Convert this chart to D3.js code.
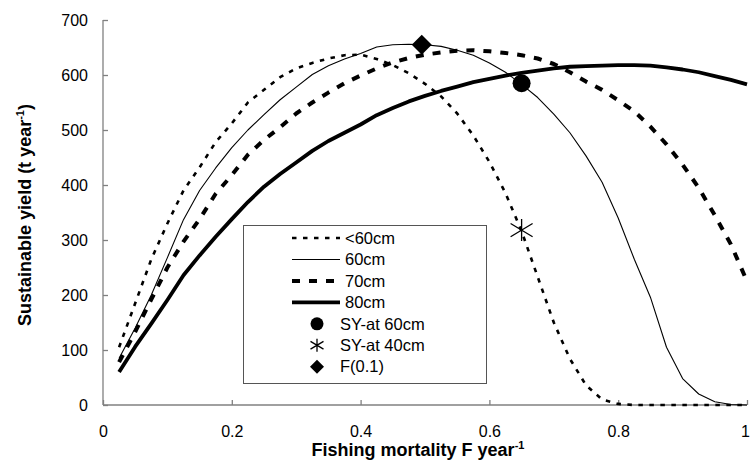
<!DOCTYPE html>
<html>
<head>
<meta charset="utf-8">
<script src="https://cdn.jsdelivr.net/npm/d3@7"></script>
<style>
  html, body { margin: 0; padding: 0; background: #fff; }
  svg { display: block; font-family: "Liberation Sans", Arial, sans-serif; }
</style>
</head>
<body>
<svg id="chart" width="750" height="464"></svg>
<script>
// ---------------- data ----------------
const fishingMortality = [0.025, 0.05, 0.075, 0.1, 0.125, 0.15, 0.175, 0.2, 0.225, 0.25,
  0.275, 0.3, 0.325, 0.35, 0.375, 0.4, 0.425, 0.45, 0.475, 0.5,
  0.525, 0.55, 0.575, 0.6, 0.625, 0.65, 0.675, 0.7, 0.725, 0.75,
  0.775, 0.8, 0.825, 0.85, 0.875, 0.9, 0.925, 0.95, 0.975, 1.0];

const yieldLt60 = [105, 185, 265, 330, 390, 432, 478, 512, 550, 573,
  596, 612, 622, 630, 636, 637, 629, 618, 603, 584,
  561, 530, 490, 442, 385, 316, 233, 150, 84, 36,
  10, 2, 0, 0, 0, 0, 0, 0, 0, 0];

const yield60 = [85, 140, 200, 268, 337, 390, 431, 468, 500, 528,
  555, 578, 601, 617, 629, 639, 651, 655, 656, 655,
  652, 645, 636, 622, 605, 583, 559, 529, 495, 453,
  405, 340, 265, 196, 105, 48, 20, 6, 1, 0];

const yield70 = [78, 133, 192, 250, 297, 338, 384, 418, 455, 482,
  505, 530, 550, 568, 585, 599, 612, 623, 631, 637,
  641, 644, 645, 643, 640, 636, 630, 620, 605, 588,
  573, 554, 534, 506, 474, 437, 395, 345, 292, 225];

const yield80 = [60, 106, 148, 191, 236, 272, 306, 338, 369, 397,
  420, 441, 462, 480, 495, 510, 527, 540, 552, 562,
  571, 579, 587, 593, 599, 604, 608, 612, 615, 616,
  617, 618, 618, 617, 614, 610, 605, 598, 591, 583];

const seriesNames = ["<60cm", "60cm", "70cm", "80cm"];
const pointNames = ["SY-at 60cm", "SY-at 40cm", "F(0.1)"];
// marker points: [F, yield]
const syAt60 = [0.65, 585];
const syAt40 = [0.65, 318];
const f01 = [0.495, 655];

const xTicks = [0, 0.2, 0.4, 0.6, 0.8, 1];
const xTickLabels = ["0", "0.2", "0.4", "0.6", "0.8", "1"];
const yTicks = [0, 100, 200, 300, 400, 500, 600, 700];

// ---------------- drawing ----------------
const svg = d3.select("#chart");
const x = d3.scaleLinear().domain([0, 1]).range([103, 747]);
const y = d3.scaleLinear().domain([0, 700]).range([405, 20]);
const axisColor = "#808080";

// axes
const xAxis = svg.append("g").attr("transform", `translate(0,${y(0)})`)
  .call(d3.axisBottom(x).tickValues(xTicks).tickSize(-5).tickPadding(0)
    .tickFormat((d, i) => xTickLabels[i]));
xAxis.select(".domain").attr("stroke", axisColor).attr("stroke-width", 1.3).attr("d", `M${x(0)},0H${x(1)}`);
xAxis.selectAll(".tick line").attr("stroke", axisColor).attr("stroke-width", 1.3);
xAxis.selectAll(".tick text").attr("y", 32).attr("dy", null)
  .attr("font-size", 16).attr("fill", "#000").attr("font-family", "Liberation Sans, Arial, sans-serif")
  .attr("text-anchor", d => d === 1 ? "end" : "middle")
  .attr("x", d => d === 1 ? 2.5 : 0);

const yAxis = svg.append("g").attr("transform", `translate(${x(0)},0)`)
  .call(d3.axisLeft(y).tickValues(yTicks).tickSize(-5).tickPadding(0));
yAxis.select(".domain").attr("stroke", axisColor).attr("stroke-width", 1.3).attr("d", `M0,${y(700)}V${y(0)}`);
yAxis.selectAll(".tick line").attr("stroke", axisColor).attr("stroke-width", 1.3);
yAxis.selectAll(".tick text").attr("x", -15).attr("dy", "0.35em")
  .attr("font-size", 16).attr("fill", "#000").attr("font-family", "Liberation Sans, Arial, sans-serif");

// axis titles
const xTitle = svg.append("text").attr("x", 418).attr("y", 456)
  .attr("text-anchor", "middle").attr("font-size", 18).attr("font-weight", "bold");
xTitle.append("tspan").text("Fishing mortality F year");
xTitle.append("tspan").attr("font-size", 11).attr("dy", -7).text("-1");

const yTitle = svg.append("text").attr("transform", "translate(31,215) rotate(-90)")
  .attr("text-anchor", "middle").attr("font-size", 18).attr("font-weight", "bold");
yTitle.append("tspan").text("Sustainable yield (t year");
yTitle.append("tspan").attr("font-size", 11).attr("dy", -7).text("-1");
yTitle.append("tspan").attr("dy", 7).text(")");

// line styles
const styles = [
  { w: 2.6, dash: "4.5,6.5" },
  { w: 1.1, dash: null },
  { w: 4, dash: "8,9" },
  { w: 3.8, dash: null }
];
const seriesValues = [yieldLt60, yield60, yield70, yield80];
const line = d3.line().x(d => x(d[0])).y(d => y(d[1]));

seriesValues.forEach((vals, i) => {
  const pts = fishingMortality.map((f, j) => [f, vals[j]]);
  svg.append("path").datum(pts).attr("d", line)
    .attr("fill", "none").attr("stroke", "#000")
    .attr("stroke-width", styles[i].w)
    .attr("stroke-dasharray", styles[i].dash)
    .attr("stroke-linejoin", "round");
});

// markers
function drawCircle(g, cx, cy, r) {
  g.append("circle").attr("cx", cx).attr("cy", cy).attr("r", r).attr("fill", "#000");
}
function drawAsterisk(g, cx, cy, s) {
  const p = d3.path();
  p.moveTo(cx, cy - s); p.lineTo(cx, cy + s);
  p.moveTo(cx - s, cy - s * 0.6); p.lineTo(cx + s, cy + s * 0.6);
  p.moveTo(cx - s, cy + s * 0.6); p.lineTo(cx + s, cy - s * 0.6);
  g.append("path").attr("d", p.toString()).attr("stroke", "#000").attr("stroke-width", 1.3).attr("fill", "none");
}
function drawDiamond(g, cx, cy, s) {
  g.append("path").attr("d", `M${cx},${cy - s}L${cx + s},${cy}L${cx},${cy + s}L${cx - s},${cy}Z`).attr("fill", "#000");
}

const mk = svg.append("g");
drawCircle(mk, x(syAt60[0]), y(syAt60[1]), 9);
drawAsterisk(mk, x(syAt40[0]), y(syAt40[1]), 11);
drawDiamond(mk, x(f01[0]), y(f01[1]), 10);

// legend
const lg = svg.append("g");
lg.append("rect").attr("x", 243.5).attr("y", 225.5).attr("width", 243).attr("height", 158)
  .attr("fill", "#fff").attr("stroke", "#555").attr("stroke-width", 1);
const rowY = i => 238 + i * 21.45;
seriesNames.forEach((name, i) => {
  lg.append("line").attr("x1", 292).attr("x2", 340).attr("y1", rowY(i)).attr("y2", rowY(i))
    .attr("stroke", "#000").attr("stroke-width", styles[i].w).attr("stroke-dasharray", styles[i].dash);
  lg.append("text").attr("x", 345).attr("y", rowY(i)).attr("dy", "0.35em")
    .attr("font-size", 16.5).text(name);
});
pointNames.forEach((name, k) => {
  const i = k + 4;
  const cy = rowY(i);
  if (k === 0) drawCircle(lg, 317, cy, 6.5);
  if (k === 1) drawAsterisk(lg, 317, cy, 6.5);
  if (k === 2) drawDiamond(lg, 317, cy, 7);
  lg.append("text").attr("x", 340).attr("y", cy).attr("dy", "0.35em")
    .attr("font-size", 16.5).text(name);
});
</script>
</body>
</html>
